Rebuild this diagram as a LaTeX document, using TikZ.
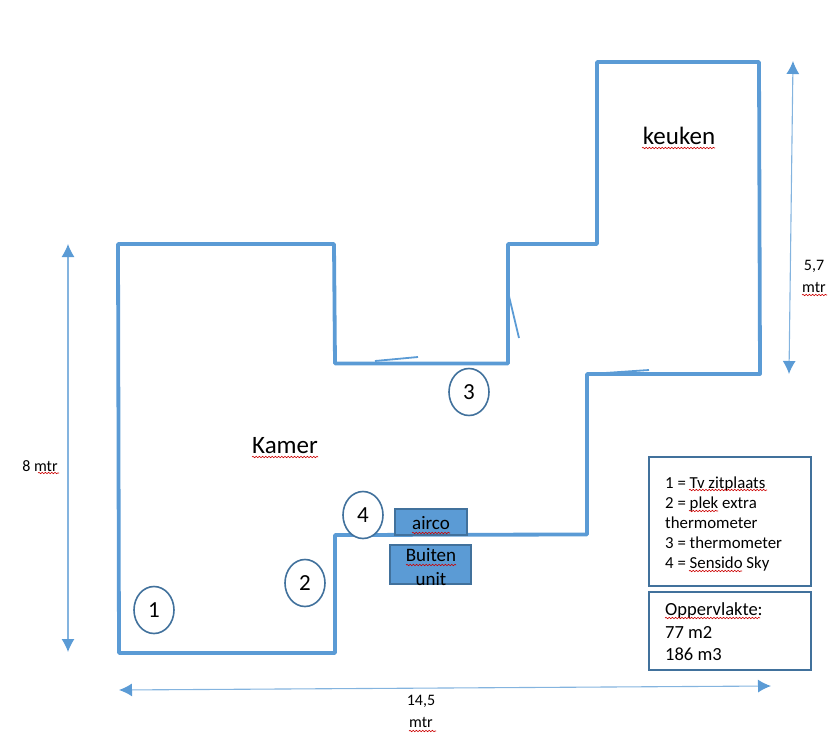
\documentclass[tikz,border=0pt]{standalone}
\usepackage{fontspec}
\setmainfont{Carlito}
\usetikzlibrary{arrows.meta,shapes.geometric,decorations.pathmorphing}
\definecolor{wall}{HTML}{5B9BD5}
\definecolor{rim}{HTML}{41719C}
\tikzset{
	wall/.style={draw=wall,line width=3.8pt,line join=round,line cap=round},
	door/.style={draw=wall,line width=1.8pt},
	dim/.style={draw=wall!75,line width=1.1pt,{Latex[length=13pt,width=13pt,color=wall]}-{Latex[length=13pt,width=13pt,color=wall]}},
	spot/.style={ellipse,draw=rim,line width=1.6pt,fill=white,inner sep=0,minimum width=40pt,minimum height=47pt,font=\fontsize{23}{28}\selectfont},
	unit/.style={draw=rim,line width=1.8pt,fill=wall},
	legend/.style={draw=rim,line width=2.2pt},
	squig/.style={draw=red!80!black,line width=.6pt,decorate,decoration={snake,amplitude=.7pt,segment length=3.2pt}},
	label/.style={inner sep=0,align=center,text=black}
}
\begin{document}
\begin{tikzpicture}[x=1pt,y=-1pt]
	\useasboundingbox (0,0) rectangle (839,736);
	% walls
	\draw[wall] (118,244) -- (334,244) -- (335,363.5) -- (508,363.5) -- (508,244) -- (597,244)
		-- (597,62) -- (759,62) -- (760,374) -- (587,374) -- (587,534.5) -- (335,535)
		-- (335,653) -- (119,653) -- cycle;
	% doors
	\draw[door] (375,361) -- (418,357);
	\draw[door] (508,292) -- (519,338);
	\draw[door] (605,373) -- (649,370);
	% dimensions
	\coordinate (hTop) at (68,244);
	\coordinate (hBot) at (68,652);
	\coordinate (kTop) at (793,61);
	\coordinate (kBot) at (789,374);
	\coordinate (wL) at (119,690);
	\coordinate (wR) at (771,686);
	\draw[dim] (hTop) -- (hBot);
	\draw[dim] (kTop) -- (kBot);
	\draw[dim] (wL) -- (wR);
	% units
	\node[unit,minimum width=72pt,minimum height=26pt,inner sep=0] (airco) at (431,522) {};
	\node[unit,minimum width=81pt,minimum height=39pt,inner sep=0] (buiten) at (430.5,564.5) {};
	\node[label,font=\fontsize{19}{23}\selectfont] (aircoT) at (431,523) {airco};
	\node[label,font=\fontsize{19}{24}\selectfont] (buitenT) at (431,567) {Buiten\\unit};
	% numbered spots
	\node[spot] (s1) at (154,610) {1};
	\node[spot] (s2) at (305,583) {2};
	\node[spot] (s3) at (469,392) {3};
	\node[spot] (s4) at (363,515) {4};
	% room names
	\node[label,font=\fontsize{25}{29}\selectfont] (kamer) at (285,446) {Kamer};
	\node[label,font=\fontsize{25}{29}\selectfont] (keuken) at (679,136) {keuken};
	% sizes
	\node[label,font=\fontsize{16}{24}\selectfont] (lenA) at (40,466) {8 mtr};
	\node[label,font=\fontsize{16}{22}\selectfont] (lenB) at (814,276) {5,7\\mtr};
	\node[label,font=\fontsize{16}{22}\selectfont] (lenC) at (421,711) {14,5\\mtr};
	% legends
	\node[legend,minimum width=162pt,minimum height=129pt,inner sep=0] (boxA) at (730,521.5) {};
	\node[legend,minimum width=162pt,minimum height=78pt,inner sep=0] (boxB) at (730,631) {};
	\node[label,align=left,anchor=west,font=\fontsize{16.8}{20}\selectfont] (boxAT) at (665,524)
		{1 = Tv zitplaats\\2 = plek extra\\thermometer\\3 = thermometer\\4 = Sensido Sky};
	\node[label,align=left,anchor=west,font=\fontsize{18.5}{22.5}\selectfont] (boxBT) at (665,632)
		{Oppervlakte:\\77 m2\\186 m3};
	% spelling marks
	\foreach \xa/\xb/\yy in {642/715/148,252/318/457,38/59/473,802/827/295,409/436/731,
		412/450/533,406/456/565,689/767/490,689/718/511,689/742/571,665/760/618}
		\draw[squig] (\xa,\yy) -- (\xb,\yy);
\end{tikzpicture}
\end{document}
